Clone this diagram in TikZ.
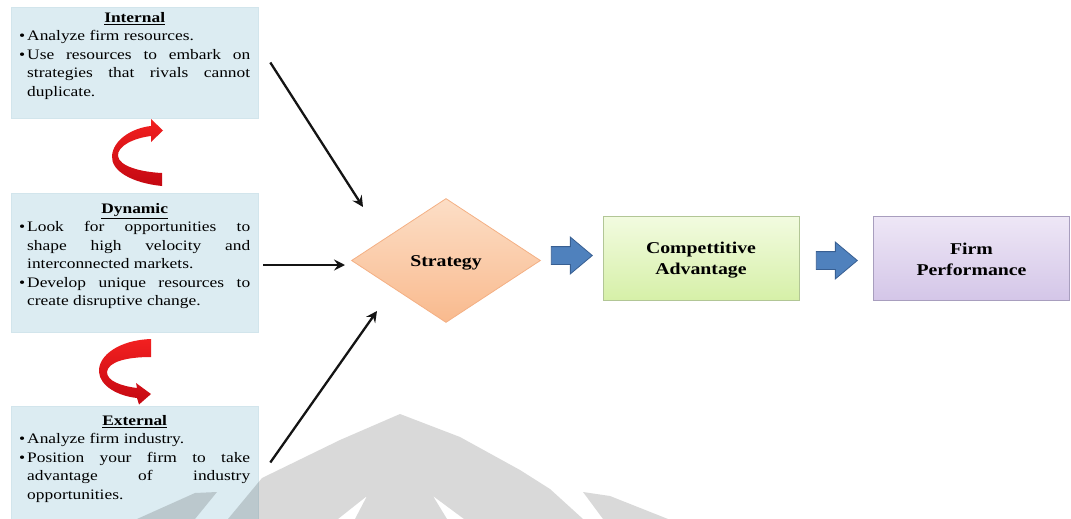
\documentclass[tikz,border=0pt]{standalone}
\usepackage{fontspec}
\setmainfont{Liberation Serif}[FakeStretch=1.2]
\usetikzlibrary{shapes.geometric,shapes.arrows,arrows.meta}

\definecolor{panelfill}{RGB}{220,236,242}
\definecolor{paneledge}{RGB}{210,229,236}
\definecolor{peachtop}{RGB}{252,222,198}
\definecolor{peachbot}{RGB}{249,186,142}
\definecolor{peachedge}{RGB}{244,176,132}
\definecolor{greentop}{RGB}{242,251,224}
\definecolor{greenbot}{RGB}{214,240,168}
\definecolor{greenedge}{RGB}{178,198,150}
\definecolor{lilactop}{RGB}{238,231,246}
\definecolor{lilacbot}{RGB}{212,198,232}
\definecolor{lilacedge}{RGB}{168,158,190}
\definecolor{blockblue}{RGB}{79,129,189}
\definecolor{blockedge}{RGB}{56,95,146}
\definecolor{ribbontop}{RGB}{242,32,32}
\definecolor{ribbonbot}{RGB}{196,8,18}

% bullet paragraph with hanging indent
\newcommand\bulletpar{\noindent\hangindent=8pt\hangafter=1\makebox[8pt][l]{\textbullet}}
\newcommand\panelhead[1]{{\centering\textbf{\underline{#1}}\par}}

\tikzset{
  panel/.style={rectangle, fill=panelfill, draw=paneledge, line width=0.6pt,
    minimum width=247pt, inner sep=0pt},
  paneltext/.style={anchor=north west, inner sep=0pt, text width=231pt,
    align=justify, font=\fontsize{14.5}{18.5}\selectfont},
  result/.style={rectangle, minimum width=196pt, minimum height=84pt,
    line width=0.8pt, align=center, font=\fontsize{16.5}{21}\selectfont\bfseries},
  feed/.style={line width=2.3pt, black!92,
    -{Stealth[length=11pt,width=11pt,inset=4pt]}},
  blockarrow/.style={single arrow, fill=blockblue, draw=blockedge, line width=0.8pt,
    minimum height=41pt, inner xsep=0pt, inner ysep=8.5pt,
    single arrow head extend=9.5pt, single arrow tip angle=80},
  ribbon/.style={top color=ribbontop, bottom color=ribbonbot, draw=none},
}

\begin{document}
\begin{tikzpicture}[x=1pt,y=-1pt]
\useasboundingbox (0,0) rectangle (1071,519);

% three perspective panels
\node[panel, minimum height=111pt] (internal) at (134.5,62.5) {};
\node[panel, minimum height=139pt] (dynamic)  at (134.5,262.5) {};
\node[panel, minimum height=113pt] (external) at (134.5,462.5) {};

\node[paneltext] (internalText) at (19,12) {%
  \panelhead{Internal}%
  \bulletpar Analyze firm resources.\par
  \bulletpar Use resources to embark on\linebreak strategies that rivals cannot\linebreak duplicate.\par};

\node[paneltext] (dynamicText) at (19,203) {%
  \panelhead{Dynamic}%
  \bulletpar Look for opportunities to\linebreak shape high velocity and\linebreak interconnected markets.\par
  \bulletpar Develop unique resources to\linebreak create disruptive change.\par};

\node[paneltext] (externalText) at (19,415) {%
  \panelhead{External}%
  \bulletpar Analyze firm industry.\par
  \bulletpar Position your firm to take\linebreak advantage of industry\linebreak opportunities.\par};

% curved red arrows between the panels
\shade[ribbon]
  (162,186) .. controls (132,183) and (111,171) .. (112,156)
  .. controls (113,140) and (132,128) .. (151,126)
  -- (151,119) -- (163,130.5) -- (151,142) -- (151,136)
  .. controls (134,138) and (117,146) .. (118,156)
  .. controls (119,166) and (140,172) .. (162,173) -- cycle;

\shade[ribbon]
  (151,339) .. controls (120,340) and (98,355) .. (99,372)
  .. controls (100,386) and (118,396) .. (137,398)
  -- (139,404.5) -- (151,394) -- (136,383) -- (137,388)
  .. controls (121,386) and (107,381) .. (107,372)
  .. controls (108,362) and (126,357) .. (151,357) -- cycle;

% strategy and outcomes
\node[diamond, minimum width=189pt, minimum height=124pt, inner sep=0pt,
  top color=peachtop, bottom color=peachbot, draw=peachedge, line width=0.8pt,
  text height=14pt, text depth=3pt,
  font=\fontsize{16.5}{21}\selectfont\bfseries] (strategy) at (446,260.5) {Strategy};

\node[result, top color=greentop, bottom color=greenbot, draw=greenedge]
  (advantage) at (701,258) {\rule{0pt}{15pt}Compettitive\\Advantage};
\node[result, top color=lilactop, bottom color=lilacbot, draw=lilacedge]
  (performance) at (971.5,258) {\rule{0pt}{15pt}Firm\\Performance};

\node[blockarrow] (toAdvantage) at (566.5,255.5) {};
\node[blockarrow] (toPerformance) at (831.5,260.5) {};

% inputs into the strategy
\coordinate (internalTip) at (363,207);
\coordinate (dynamicTip)  at (345,265);
\coordinate (externalTip) at (377,311);
\draw[feed] ([xshift=12pt]internal.east) -- (internalTip);
\draw[feed] ([shift={(5,2.5)}]dynamic.east) -- (dynamicTip);
\draw[feed] ([xshift=12pt]external.east) -- (externalTip);

% faint background emblem
\begin{scope}[fill=black, fill opacity=0.15]
  \fill (228,519) -- (262,478) -- (340,440) -- (400,414) -- (460,437)
    -- (520,470) -- (550,489) -- (583,519) -- (464,519) -- (433,496)
    -- (447,519) -- (355,519) -- (367,496) -- (338,519) -- cycle;
  \fill (583,492) -- (610,496) -- (668,519) -- (603,519) -- cycle;
  \fill (137,519) -- (195,493) -- (217,492) -- (195,519) -- cycle;
\end{scope}
\end{tikzpicture}
\end{document}
